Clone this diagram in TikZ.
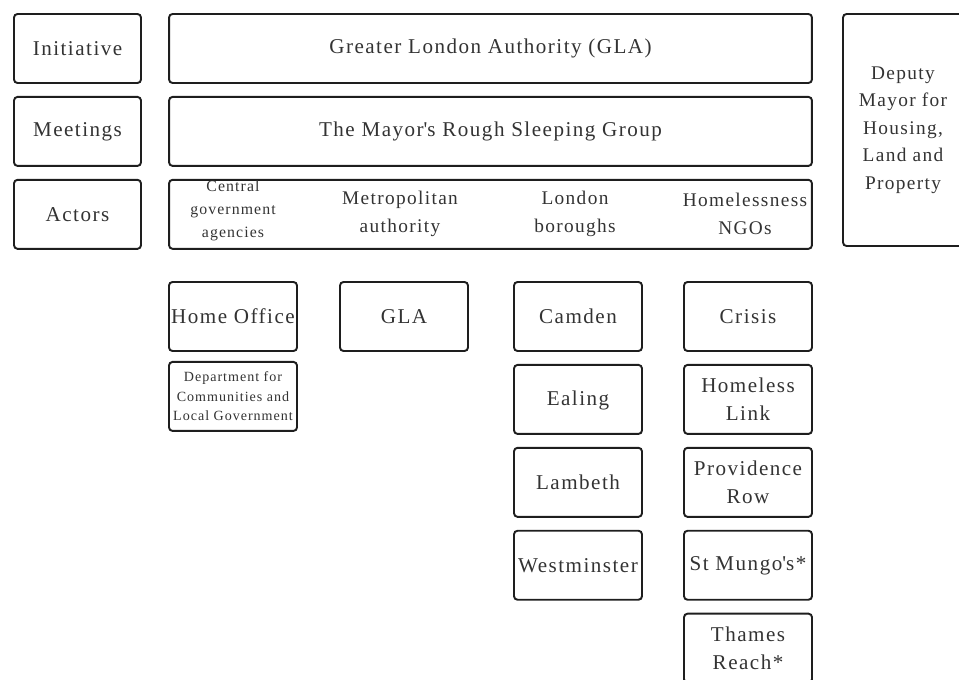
\documentclass[tikz,border=0pt]{standalone}
\usepackage{fontspec}
\setmainfont{Liberation Serif}[LetterSpace=7]
\usepackage{xcolor}
\definecolor{BoxLine}{HTML}{1E1E1E}
\definecolor{BoxText}{HTML}{333333}
\usetikzlibrary{positioning}
\tikzset{
  % Box styles
  labelbox/.style={rectangle, rounded corners=2pt, draw=BoxLine, line width=1.1pt, minimum width=2.54cm, minimum height=1.38cm, inner sep=1pt, align=center, text=BoxText, font=\fontsize{12}{16}\selectfont},
  bandbox/.style={labelbox, minimum width=12.86cm},
  actorbox/.style={labelbox, minimum width=2.56cm},
  % Text styles
  sublabel/.style={align=center, text=BoxText, inner sep=0pt, font=\fontsize{11}{16}\selectfont}
}

\begin{document}
\begin{tikzpicture}[x=0.02cm, y=-0.02cm]
  \useasboundingbox (0,0) rectangle (959,679);

  % Row labels
  \node[labelbox] (init) at (77.5,48.5) {Initiative};
  \node[labelbox, below=0.24cm of init] (meet) {Meetings};
  \node[labelbox, below=0.24cm of meet] (actors) {Actors};

  % Bands
  \node[bandbox] (gla) at (490.5,48.5) {Greater London Authority (GLA)};
  \node[bandbox, below=0.24cm of gla] (group) {The Mayor\textquotesingle s Rough Sleeping Group};
  \node[bandbox, below=0.24cm of group] (actrow) {};

  % Deputy mayor
  \node[labelbox, minimum width=2.4cm, minimum height=4.64cm, font=\fontsize{11}{15.6}\selectfont] (deputy) at (903,130) {Deputy\\Mayor for\\Housing,\\Land and\\Property};

  % Actor groups
  \node[sublabel, font=\fontsize{9}{13}\selectfont] (cga) at (233,211) {Central\\government\\agencies};
  \node[sublabel] (metro) at (400,214) {Metropolitan\\authority};
  \node[sublabel] (boroughs) at (575,214) {London\\boroughs};
  \node[sublabel] (ngos) at (745,214) {Homelessness\\NGOs};

  % Central government
  \node[actorbox] (home) at (233,316.5) {Home Office};
  \node[actorbox, below=0.18cm of home, font=\fontsize{8}{11}\selectfont] (dclg) {Department for\\Communities and\\Local Government};

  % Metropolitan authority
  \node[actorbox] (glaorg) at (404,316.5) {GLA};

  % London boroughs
  \node[actorbox] (camden) at (578,316.5) {Camden};
  \node[actorbox, below=0.24cm of camden] (ealing) {Ealing\strut};
  \node[actorbox, below=0.24cm of ealing] (lambeth) {Lambeth};
  \node[actorbox, below=0.24cm of lambeth] (westminster) {Westminster};

  % Homelessness NGOs
  \node[actorbox] (crisis) at (748,316.5) {Crisis};
  \node[actorbox, below=0.24cm of crisis] (link) {Homeless\\Link};
  \node[actorbox, below=0.24cm of link] (providence) {Providence\\Row};
  \node[actorbox, below=0.24cm of providence] (mungo) {St Mungo\textquotesingle s*\strut};
  \node[actorbox, below=0.24cm of mungo] (thames) {Thames\\Reach*};
\end{tikzpicture}
\end{document}
